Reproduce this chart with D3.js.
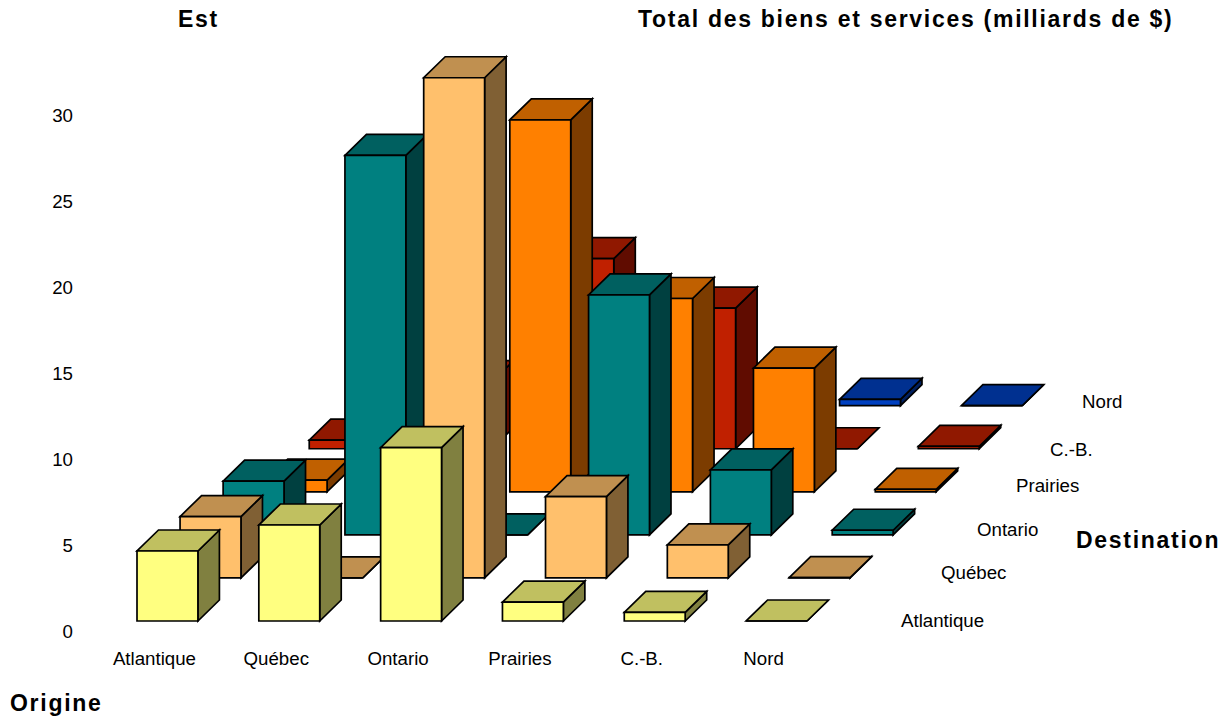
<!DOCTYPE html>
<html>
<head>
<meta charset="utf-8">
<script src="https://cdn.jsdelivr.net/npm/d3@7"></script>
<style>
html, body { margin: 0; padding: 0; background: #fff; }
text { font-family: "Liberation Sans", Arial, sans-serif; fill: #000; }
.lab { font-size: 18.7px; }
.title { font-size: 23px; font-weight: bold; letter-spacing: 1.72px; }
</style>
</head>
<body>
<script>
// values in milliards de $
var origins = ["Atlantique", "Québec", "Ontario", "Prairies", "C.-B.", "Nord"];
var destinations = ["Atlantique", "Québec", "Ontario", "Prairies", "C.-B.", "Nord"];
var toAtlantique = [4.07, 5.58, 10.08, 1.1, 0.5, 0];
var toQuebec = [3.57, 0, 29.08, 4.73, 1.92, 0.02];
var toOntario = [3.12, 22.07, 0, 13.95, 3.78, 0.27];
var toPrairies = [0.68, 2, 21.63, 11.24, 7.19, 0.14];
var toCB = [0.5, 3.9, 11.05, 8.18, 0, 0.14];
var toNord = [0, 0, 0, 0, 0.37, 0];
var rows = [toAtlantique, toQuebec, toOntario, toPrairies, toCB, toNord];
var yTicks = [0, 5, 10, 15, 20, 25, 30];

// front, top and side colours for each destination
var frontColors = ["#ffff80", "#ffc06c", "#008080", "#ff8000", "#c02000", "#0040c0"];
var topColors = ["#c0c060", "#c09050", "#006060", "#c06000", "#901800", "#003090"];
var sideColors = ["#808040", "#806034", "#004040", "#7c3c00", "#600c00", "#002060"];

var width = 1231, height = 717;
var baseY = 621;
var depthX = 21.5, depthY = 21;

var svg = d3.select("body").append("svg")
	.attr("width", width)
	.attr("height", height)
	.style("display", "block");

var x = d3.scaleBand()
	.domain(origins)
	.range([137, 807])
	.paddingInner(0.5)
	.paddingOuter(0);
var rowOffset = d3.scalePoint()
	.domain(destinations)
	.range([0, 215.3]);
var y = d3.scaleLinear()
	.domain([0, 30])
	.range([632, 116]);

var yAxis = d3.axisLeft(y)
	.tickValues(yTicks)
	.tickSize(0)
	.tickPadding(0);
var yAxisG = svg.append("g")
	.attr("transform", "translate(73,0)")
	.call(yAxis);
yAxisG.select(".domain").remove();
yAxisG.attr("font-family", null).attr("font-size", null);
yAxisG.selectAll("text")
	.attr("class", "lab")
	.attr("x", 0);

var line = d3.line();

// build the flat list of bars, back row first so the front rows paint over
var bars = [];
destinations.forEach(function(dest, r){
	origins.forEach(function(orig, c){
		bars.push({dest: dest, orig: orig, r: r, value: rows[r][c]});
	});
});
bars.sort(function(a, b){ return b.r - a.r; });

var barG = svg.selectAll("g.bar")
	.data(bars)
	.enter()
	.append("g")
	.attr("class", "bar")
	.attr("stroke", "#000")
	.attr("stroke-width", 1.7)
	.attr("stroke-linejoin", "miter");

function corners(d){
	var off = rowOffset(d.dest);
	var x0 = x(d.orig) + off;
	var x1 = x0 + x.bandwidth();
	var yb = baseY - off;
	var yt = yb - (y(0) - y(d.value));
	return {x0: x0, x1: x1, yb: yb, yt: yt};
}

barG.append("path")
	.attr("fill", function(d){ return sideColors[d.r]; })
	.attr("d", function(d){
		var c = corners(d);
		return line([[c.x1, c.yb], [c.x1, c.yt], [c.x1 + depthX, c.yt - depthY], [c.x1 + depthX, c.yb - depthY]]) + "Z";
	});
barG.append("path")
	.attr("fill", function(d){ return topColors[d.r]; })
	.attr("d", function(d){
		var c = corners(d);
		return line([[c.x0, c.yt], [c.x1, c.yt], [c.x1 + depthX, c.yt - depthY], [c.x0 + depthX, c.yt - depthY]]) + "Z";
	});
barG.append("path")
	.attr("fill", function(d){ return frontColors[d.r]; })
	.attr("d", function(d){
		var c = corners(d);
		return line([[c.x0, c.yb], [c.x1, c.yb], [c.x1, c.yt], [c.x0, c.yt]]) + "Z";
	});

// origin labels under the front row
svg.selectAll("text.orig")
	.data(origins)
	.enter()
	.append("text")
	.attr("class", "lab orig")
	.attr("x", function(d){ return x(d) + x.bandwidth() / 2 - 13; })
	.attr("y", 665)
	.attr("text-anchor", "middle")
	.text(function(d){ return d; });

// destination labels on the right
var destLabelX = [901, 941, 977, 1016, 1050, 1082];
var destLabelY = [627, 579, 536, 492, 456, 408];
svg.selectAll("text.dest")
	.data(destinations)
	.enter()
	.append("text")
	.attr("class", "lab dest")
	.attr("x", function(d, i){ return destLabelX[i]; })
	.attr("y", function(d, i){ return destLabelY[i]; })
	.text(function(d){ return d; });

svg.append("text").attr("class", "title").attr("x", 178).attr("y", 27).text("Est");
svg.append("text").attr("class", "title").attr("x", 638).attr("y", 27).text("Total des biens et services (milliards de $)");
svg.append("text").attr("class", "title").attr("x", 1076).attr("y", 548).text("Destination");
svg.append("text").attr("class", "title").attr("x", 10).attr("y", 711).text("Origine");
</script>
</body>
</html>
